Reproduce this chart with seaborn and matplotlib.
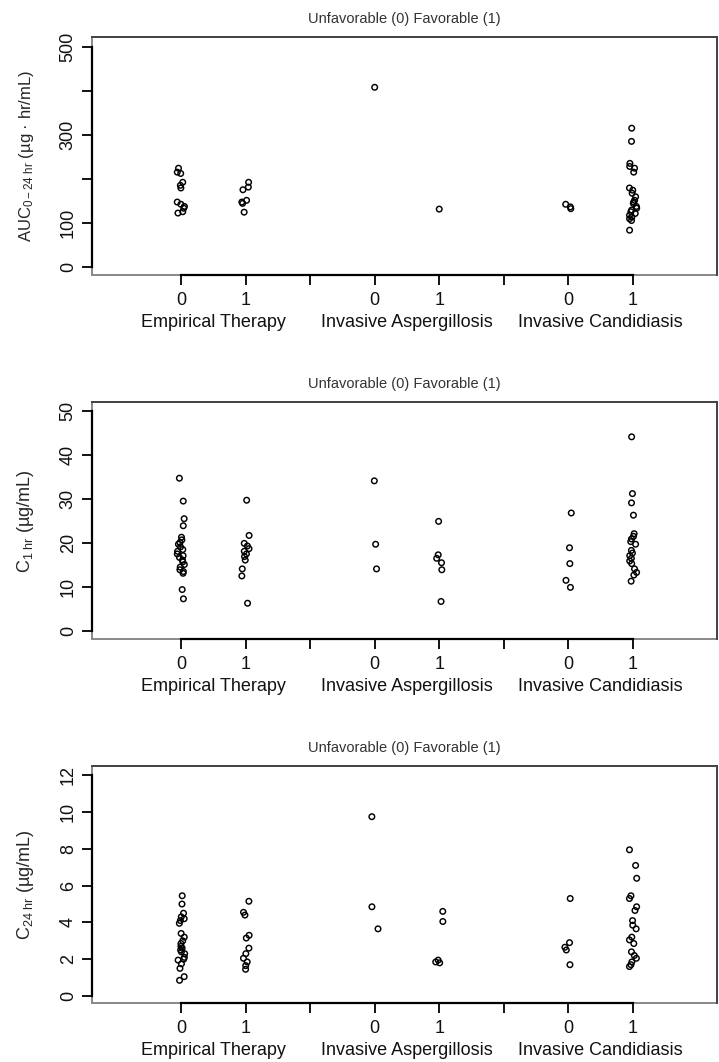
import numpy as np
import pandas as pd
import matplotlib
matplotlib.use("Agg")
import matplotlib.pyplot as plt
import seaborn as sns
from matplotlib.patches import Rectangle
from matplotlib.transforms import blended_transform_factory

# x positions of the outcome columns; 3 and 6 are the gaps between diagnoses
positions = [1, 2, 4, 5, 7, 8]
tick_positions = [1, 2, 3, 4, 5, 6, 7, 8]
tick_labels = ["0", "1", "", "0", "1", "", "0", "1"]
group_centers = [1.5, 4.5, 7.5]
group_names = ["Empirical Therapy", "Invasive Aspergillosis", "Invasive Candidiasis"]
title_text = "Unfavorable (0) Favorable (1)"

# AUC 0-24 hr (ug*hr/mL) by group and outcome
auc_et0 = [225, 216, 213, 193, 186, 180, 148, 143, 138, 134, 126, 123]
auc_et1 = [193, 182, 176, 152, 148, 145, 125]
auc_ia0 = [409]
auc_ia1 = [132]
auc_ic0 = [143, 137, 133]
auc_ic1 = [316, 286, 236, 229, 225, 216, 180, 175, 168, 160, 152, 148,
           145, 138, 134, 130, 126, 122, 118, 114, 110, 106, 84]

# C 1 hr (ug/mL)
c1_et0 = [34.8, 29.6, 25.6, 24.0, 21.4, 20.8, 20.2, 19.8, 19.2, 18.6, 18.2, 17.6,
          17.2, 16.8, 16.2, 15.8, 15.2, 14.6, 14.0, 13.6, 13.2, 9.5, 7.4]
c1_et1 = [29.8, 21.8, 20.0, 19.4, 18.8, 18.2, 17.6, 17.0, 16.2, 14.2, 12.6, 6.4]
c1_ia0 = [34.2, 19.8, 14.2]
c1_ia1 = [25.0, 17.4, 16.6, 15.6, 14.0, 6.8]
c1_ic0 = [26.9, 19.0, 15.4, 11.6, 10.0]
c1_ic1 = [44.2, 31.3, 29.2, 26.4, 22.2, 21.6, 21.0, 20.4, 19.8, 18.4, 17.8, 17.2,
          16.6, 16.0, 15.4, 14.2, 13.4, 12.8, 11.4]

# C 24 hr (ug/mL)
c24_et0 = [5.45, 5.0, 4.5, 4.3, 4.2, 4.1, 3.95, 3.4, 3.2, 3.0, 2.85, 2.7, 2.6, 2.5,
           2.4, 2.3, 2.1, 2.0, 1.95, 1.75, 1.5, 1.05, 0.85]
c24_et1 = [5.15, 4.55, 4.4, 3.3, 3.15, 2.6, 2.3, 2.05, 1.85, 1.65, 1.45]
c24_ia0 = [9.75, 4.85, 3.65]
c24_ia1 = [4.6, 4.05, 1.95, 1.85, 1.8]
c24_ic0 = [5.3, 2.9, 2.65, 2.5, 1.7]
c24_ic1 = [7.95, 7.1, 6.4, 5.45, 5.3, 4.85, 4.65, 4.1, 3.85, 3.65, 3.2, 3.05,
           2.85, 2.4, 2.2, 2.05, 1.85, 1.7, 1.6]

auc_ylabel = "AUC$_{\\mathregular{0-24\\ hr}}$ (µg · hr/mL)"
c1_ylabel = "C$_{\\mathregular{1\\ hr}}$ (µg/mL)"
c24_ylabel = "C$_{\\mathregular{24\\ hr}}$ (µg/mL)"

auc_yticks = [0, 100, 200, 300, 400, 500]
auc_yticklabels = ["0", "100", "", "300", "", "500"]
c1_yticks = [0, 10, 20, 30, 40, 50]
c1_yticklabels = ["0", "10", "20", "30", "40", "50"]
c24_yticks = [0, 2, 4, 6, 8, 10, 12]
c24_yticklabels = ["0", "2", "4", "6", "8", "10", "12"]


def long_frame(groups):
    rows = []
    for pos, vals in zip(positions, groups):
        for v in vals:
            rows.append({"pos": pos, "value": v})
    return pd.DataFrame(rows)


panels = [
    ([auc_et0, auc_et1, auc_ia0, auc_ia1, auc_ic0, auc_ic1],
     auc_ylabel, 12, auc_yticks, auc_yticklabels, (-18, 523)),
    ([c1_et0, c1_et1, c1_ia0, c1_ia1, c1_ic0, c1_ic1],
     c1_ylabel, 13, c1_yticks, c1_yticklabels, (-1.8, 52.0)),
    ([c24_et0, c24_et1, c24_ia0, c24_ia1, c24_ic0, c24_ic1],
     c24_ylabel, 13, c24_yticks, c24_yticklabels, (-0.38, 12.5)),
]

sns.set_theme(style="white")
plt.rcParams["font.family"] = ["Liberation Sans", "DejaVu Sans"]
plt.rcParams["mathtext.fontset"] = "custom"
plt.rcParams["mathtext.rm"] = "Liberation Sans"
plt.rcParams["mathtext.it"] = "Liberation Sans"
plt.rcParams["mathtext.bf"] = "Liberation Sans:bold"

fig = plt.figure(figsize=(7.19, 10.62), dpi=100)
axes_rects = [
    [0.128, 0.741, 0.869, 0.224],
    [0.128, 0.398, 0.869, 0.223],
    [0.128, 0.0556, 0.869, 0.223],
]

np.random.seed(11)
for rect, (groups, ylabel, ylsize, yticks, yticklabels, ylim) in zip(axes_rects, panels):
    ax = fig.add_axes(rect)
    df = long_frame(groups)
    sns.stripplot(data=df, x="pos", y="value", native_scale=True, orient="x",
                  jitter=0.06, color="black", facecolor="none", edgecolor="black",
                  linewidth=1.05, size=4.0, ax=ax)
    ax.set_xlim(-0.378, 9.30)
    ax.set_ylim(*ylim)
    ax.set_xlabel("")
    ax.set_ylabel(ylabel, fontsize=ylsize)
    ax.yaxis.set_label_coords(-0.09, 0.5)

    ax.set_xticks(tick_positions)
    ax.set_xticklabels(tick_labels)
    ax.set_yticks(yticks)
    ax.set_yticklabels(yticklabels, rotation=90, va="center")
    ax.tick_params(axis="both", direction="out", length=7.5, width=1.3,
                   color="black", labelsize=13, labelcolor="#111111")
    ax.tick_params(axis="x", pad=4.5, bottom=True)
    ax.tick_params(axis="y", pad=3.5, left=True)

    # axis lines only span the tick range; the surrounding box is lighter
    for side in ["top", "right"]:
        ax.spines[side].set_color("#444444")
        ax.spines[side].set_linewidth(1.4)
    for side in ["left", "bottom"]:
        ax.spines[side].set_color("black")
        ax.spines[side].set_linewidth(1.6)
    ax.spines["bottom"].set_bounds(1, 8)
    ax.spines["left"].set_bounds(yticks[0], yticks[-1])
    ax.add_patch(Rectangle((0, 0), 1, 1, transform=ax.transAxes, fill=False,
                           edgecolor="#888888", linewidth=1.4, clip_on=False,
                           zorder=0.5))

    trans = blended_transform_factory(ax.transData, ax.transAxes)
    for xc, name in zip(group_centers, group_names):
        ax.text(xc, -0.2, name, transform=trans, ha="center", va="center",
                fontsize=13, color="#111111")
    ax.text(0.5, 1.076, title_text, transform=ax.transAxes, ha="center",
            va="center", fontsize=10.5, color="#333333")

fig.savefig("out.png", dpi=100)
